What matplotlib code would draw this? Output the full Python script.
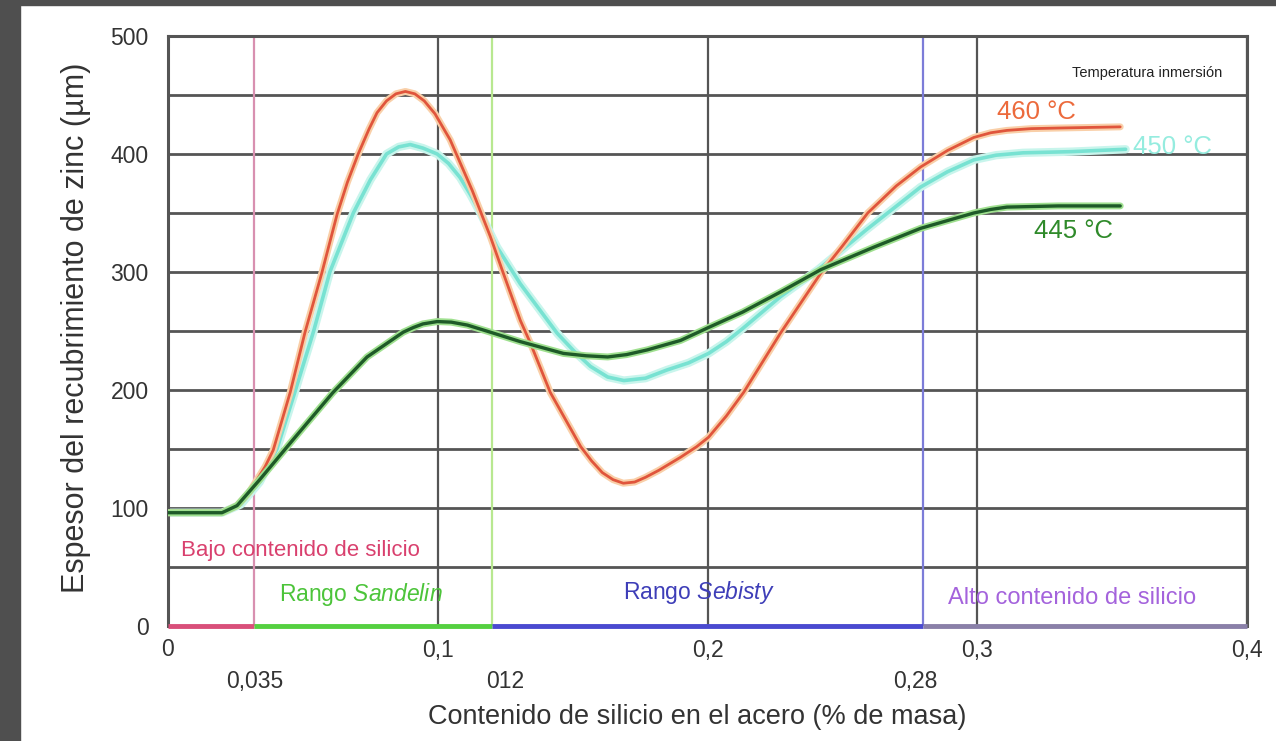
import matplotlib.pyplot as plt
from matplotlib.patches import Rectangle

plt.rcParams['font.family'] = ['Liberation Sans', 'DejaVu Sans']
plt.rcParams['mathtext.fontset'] = 'custom'
plt.rcParams['mathtext.rm'] = 'Liberation Sans'
plt.rcParams['mathtext.it'] = 'Liberation Sans:italic'

# Datos (contenido de Si en %, espesor en µm)
x_460 = [0, 0.02, 0.0256, 0.03, 0.033, 0.036, 0.039, 0.0453, 0.0508, 0.057, 0.0627, 0.0665,
         0.0705, 0.0745, 0.0775, 0.081, 0.0845, 0.088, 0.0915, 0.095, 0.099, 0.1046, 0.1128,
         0.1195, 0.1243, 0.1306, 0.1343, 0.1417, 0.153, 0.157, 0.161, 0.165, 0.1688, 0.173,
         0.177, 0.182, 0.19, 0.196, 0.2004, 0.207, 0.2134, 0.227, 0.242, 0.25, 0.2594, 0.27,
         0.279, 0.289, 0.2987, 0.305, 0.311, 0.32, 0.33, 0.353]
y_460 = [96, 96, 102, 113, 124, 135, 149, 198, 249, 299, 349, 376,
         400, 421, 435, 445, 451, 453, 451, 445, 434, 412, 369,
         330, 299, 259, 240, 198, 152, 140, 130, 124, 121, 122,
         126, 132, 143, 152, 160, 178, 198, 248, 299, 322, 350, 373,
         389, 403, 414, 418, 420, 421.5, 422, 423]

x_450 = [0, 0.02, 0.027, 0.034, 0.0404, 0.047, 0.054, 0.060, 0.0687, 0.075, 0.081, 0.0855,
         0.0898, 0.0945, 0.0998, 0.104, 0.1083, 0.112, 0.1158, 0.122, 0.1306, 0.1443, 0.1505,
         0.1566, 0.163, 0.169, 0.177, 0.185, 0.193, 0.2004, 0.207, 0.213, 0.227, 0.241, 0.259,
         0.279, 0.289, 0.2987, 0.307, 0.317, 0.335, 0.355]
y_450 = [96, 96, 103, 122, 150, 198, 250, 300, 350, 378, 400, 406,
         408, 405, 400, 392, 380, 366, 350, 321, 290, 248, 233,
         220, 211, 208, 210, 217, 223, 231, 241, 252, 279, 302, 336,
         372, 385, 395, 399, 401, 402, 404]

x_445 = [0, 0.02, 0.0256, 0.034, 0.0464, 0.0612, 0.0738, 0.0872, 0.091, 0.0945, 0.0998, 0.105,
         0.111, 0.1195, 0.1306, 0.1466, 0.155, 0.163, 0.17, 0.1777, 0.19, 0.2004, 0.213, 0.227,
         0.242, 0.2616, 0.279, 0.2987, 0.305, 0.311, 0.33, 0.353]
y_445 = [96, 96, 102, 124, 158, 198, 228, 249, 253, 256, 258, 257.5,
         255, 249, 241, 231, 229, 228, 230, 234, 242, 253, 266, 283,
         302, 321, 337, 350, 353, 355, 356, 356]

# Límites de rangos y sus textos
bounds = [0, 0.032, 0.12, 0.28, 0.4]
bound_colors = ['#d94f7a', '#55d040', '#4a4ad0', '#8a80a8']
bound_line_colors = ['#d890b0', '#b8e890', '#7c7cd8']

x_ticks = [0, 0.1, 0.2, 0.3, 0.4]
x_tick_labels = ['0', '0,1', '0,2', '0,3', '0,4']
x_extra_ticks = [0.032, 0.125, 0.277]
x_extra_labels = ['0,035', '012', '0,28']
y_ticks = [0, 100, 200, 300, 400, 500]

fig = plt.figure(figsize=(12.76, 7.41), dpi=100)
fig.patch.set_facecolor('white')
# marco gris oscuro de la captura
fig.add_artist(Rectangle((0, 0), 20 / 1276, 1, transform=fig.transFigure, color='#4f4f4f', zorder=-5))
fig.add_artist(Rectangle((0, 1 - 5 / 741), 1, 5 / 741, transform=fig.transFigure, color='#4f4f4f', zorder=-5))

ax = fig.add_axes([168 / 1276, 1 - 626 / 741, (1247 - 168) / 1276, (626 - 36) / 741])
ax.set_xlim(0, 0.4)
ax.set_ylim(0, 500)

# rejilla
ax.set_yticks(y_ticks)
ax.set_yticks([50, 150, 250, 350, 450], minor=True)
ax.set_xticks(x_ticks)
ax.set_xticklabels(x_tick_labels)
ax.grid(True, which='both', axis='y', color='#555555', lw=2)
ax.grid(True, which='major', axis='x', color='#555555', lw=1.6)
ax.set_axisbelow(True)
ax.tick_params(which='both', length=0)
ax.tick_params(axis='x', pad=9, labelsize=16.5, colors='#333333')
ax.tick_params(axis='y', pad=14, labelsize=16.5, colors='#333333')
for s in ['top', 'left', 'right']:
    ax.spines[s].set_color('#555555')
    ax.spines[s].set_linewidth(2.2)
ax.spines['bottom'].set_visible(False)

# líneas de separación de rangos
for xb, c in zip(bounds[1:-1], bound_line_colors):
    ax.axvline(xb, color=c, lw=1.6, zorder=1)

# eje inferior coloreado por rango
for i in range(len(bounds) - 1):
    ax.plot([bounds[i], bounds[i + 1]], [0, 0], color=bound_colors[i], lw=3.5,
            solid_capstyle='butt', clip_on=False, zorder=3)

# curvas con halo suave
ax.plot(x_450, y_450, color='#c8f5ec', lw=6, solid_capstyle='round', solid_joinstyle='round', zorder=2)
ax.plot(x_450, y_450, color='#78e2d2', lw=2.6, solid_capstyle='round', solid_joinstyle='round', zorder=3)
ax.plot(x_460, y_460, color='#f9cfa8', lw=5, solid_capstyle='round', solid_joinstyle='round', zorder=4)
ax.plot(x_460, y_460, color='#e0553c', lw=2, solid_capstyle='round', solid_joinstyle='round', zorder=5)
ax.plot(x_445, y_445, color='#9fe08f', lw=5, solid_capstyle='round', solid_joinstyle='round', zorder=6)
ax.plot(x_445, y_445, color='#1e5a28', lw=2.4, solid_capstyle='round', solid_joinstyle='round', zorder=7)

# textos dentro del gráfico
ax.text(0.363, 469, 'Temperatura inmersión', ha='center', va='center', fontsize=10.5, color='#222222')
ax.text(0.322, 436, '460 °C', ha='center', va='center', fontsize=18.5, color='#ec6a3c')
ax.text(0.3725, 406, '450 °C', ha='center', va='center', fontsize=18.5, color='#95ecdf')
ax.text(0.3355, 335, '445 °C', ha='center', va='center', fontsize=18.5, color='#2f8a2a')

ax.text(0.005, 64, 'Bajo contenido de silicio', ha='left', va='center', fontsize=16, color='#d9406e')
ax.text(0.041, 27, 'Rango $\\it{Sandelin}$', ha='left', va='center', fontsize=16.5, color='#4cc43a')
ax.text(0.1685, 28, 'Rango $\\it{Sebisty}$', ha='left', va='center', fontsize=16.5, color='#3e3eb8')
ax.text(0.289, 24, 'Alto contenido de silicio', ha='left', va='center', fontsize=17, color='#a463dc')

# segunda fila de etiquetas del eje x
for xv, lab in zip(x_extra_ticks, x_extra_labels):
    ax.text(xv, -47, lab, ha='center', va='center', fontsize=16.5, color='#333333', clip_on=False)

ax.set_xlabel('Contenido de silicio en el acero (% de masa)', fontsize=19.5, color='#333333')
ax.xaxis.set_label_coords(0.49, -0.155)
ax.xaxis.label.set_va('center')
ax.set_ylabel('Espesor del recubrimiento de zinc (µm)', fontsize=22, color='#333333')
ax.yaxis.set_label_coords(-0.085, 0.505)
ax.yaxis.label.set_va('center')

plt.savefig('out.png', dpi=100, facecolor='white')
